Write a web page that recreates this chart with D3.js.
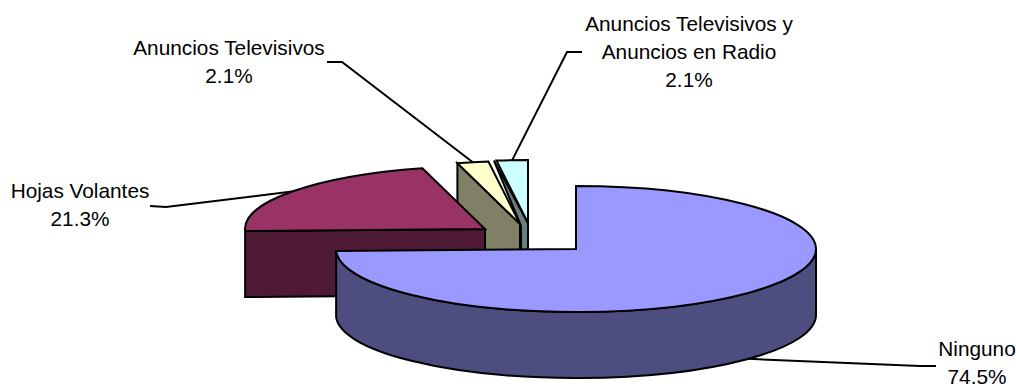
<!DOCTYPE html>
<html>
<head>
<meta charset="utf-8">
<script src="https://cdn.jsdelivr.net/npm/d3@7"></script>
<style>
html, body { margin: 0; padding: 0; background: #fff; overflow: hidden; }
svg { display: block; }
text { font-family: "Liberation Sans", Arial, sans-serif; font-size: 20.8px; fill: #000; }
</style>
</head>
<body>
<svg id="chart" width="1016" height="386"></svg>
<script>
// Survey shares, in the clockwise order of the pie starting at twelve o'clock
const categories = ["Ninguno", "Hojas Volantes", "Anuncios Televisivos", "Anuncios Televisivos y Anuncios en Radio"];
const values = [74.5, 21.3, 2.1, 2.1];
const labelLines = [["Ninguno"], ["Hojas Volantes"], ["Anuncios Televisivos"], ["Anuncios Televisivos y", "Anuncios en Radio"]];
const topColors = ["#9999FF", "#993366", "#FFFFCC", "#CCFFFF"];
const wallColors = ["#4D4D80", "#4D1933", "#808066", "#668080"];

// Projection of the tilted pie
const rx = 240, ry = 63, depth = 66;
const centers = [[576, 249], [485, 229], [520, 224], [528, 223]];

// Label placement: centre x, first baseline, leader elbow and leader end
const labelPos = [[977, 356], [80, 198], [229, 55], [689, 31]];
const leaderTail = [
  [[936, 366], [920, 366]],
  [[150, 206], [166, 207]],
  [[327, 62], [342, 62]],
  [[582, 52], [567, 52]]
];
const lineStep = 28;
const tealSpread = 2.5;

const svg = d3.select("#chart");
const slices = d3.pie().sort(null).value(d => d)(values);

const project = (c, angle, dy = 0) =>
  [c[0] + rx * Math.sin(angle), c[1] - ry * Math.cos(angle) + dy];

// Flat top of a slice: apex, out to the rim, along the ellipse, and back
function topPath(i) {
  const s = slices[i], c = centers[i];
  const a = project(c, s.startAngle), b = project(c, s.endAngle);
  const large = s.endAngle - s.startAngle > Math.PI ? 1 : 0;
  return `M${c}L${a}A${rx},${ry} 0 ${large} 1 ${b}Z`;
}

// Radial cut face hanging below the edge at the given angle
function facePath(i, angle) {
  const c = centers[i], t = project(c, angle);
  return d3.line()([t, c, [c[0], c[1] + depth], [t[0], t[1] + depth]]) + "Z";
}

// Outer rim of the big slice, from three o'clock round the front to its end
function rimPath(i) {
  const c = centers[i], from = Math.PI / 2, to = slices[i].endAngle;
  const a = project(c, from), b = project(c, to);
  const a2 = project(c, from, depth), b2 = project(c, to, depth);
  return `M${a}A${rx},${ry} 0 0 1 ${b}L${b2}A${rx},${ry} 0 0 0 ${a2}Z`;
}

const draw = (d, fill) => svg.append("path")
  .attr("d", d)
  .attr("fill", fill)
  .attr("stroke", "#000")
  .attr("stroke-width", 2)
  .attr("stroke-linejoin", "miter");

// Back to front: the narrow wedges, then the maroon slice, then the big one.
// The teal face narrows toward the neighbouring wedge's apex.
const radioTip = project(centers[3], slices[3].startAngle);
draw(d3.line()([
  [radioTip[0] - tealSpread, radioTip[1]],
  centers[3],
  [centers[3][0], centers[3][1] + depth],
  [centers[2][0] + 1, centers[3][1] + depth],
  [centers[2][0] + 1, centers[2][1] + 2]
]) + "Z", wallColors[3]);
draw(topPath(3), topColors[3]);

draw(facePath(2, slices[2].startAngle), wallColors[2]);
draw(topPath(2), topColors[2]);

draw(facePath(1, slices[1].startAngle), wallColors[1]);
draw(topPath(1), topColors[1]);

draw(rimPath(0), wallColors[0]);
draw(topPath(0), topColors[0]);

// Leader lines run from each label to the rim at the slice's middle angle
slices.forEach((s, i) => {
  const mid = (s.startAngle + s.endAngle) / 2;
  const onFront = Math.cos(mid) < 0;
  const end = project(centers[i], mid, onFront ? depth : 0);
  svg.append("path")
    .attr("d", d3.line()([...leaderTail[i], end]))
    .attr("fill", "none")
    .attr("stroke", "#000")
    .attr("stroke-width", 2);
});

// Labels: category name lines followed by the percentage
categories.forEach((name, i) => {
  const lines = [...labelLines[i], values[i].toFixed(1) + "%"];
  const t = svg.append("text").attr("text-anchor", "middle").attr("aria-label", name);
  lines.forEach((line, k) => {
    t.append("tspan")
      .attr("x", labelPos[i][0])
      .attr("y", labelPos[i][1] + k * lineStep)
      .text(line);
  });
});
</script>
</body>
</html>
